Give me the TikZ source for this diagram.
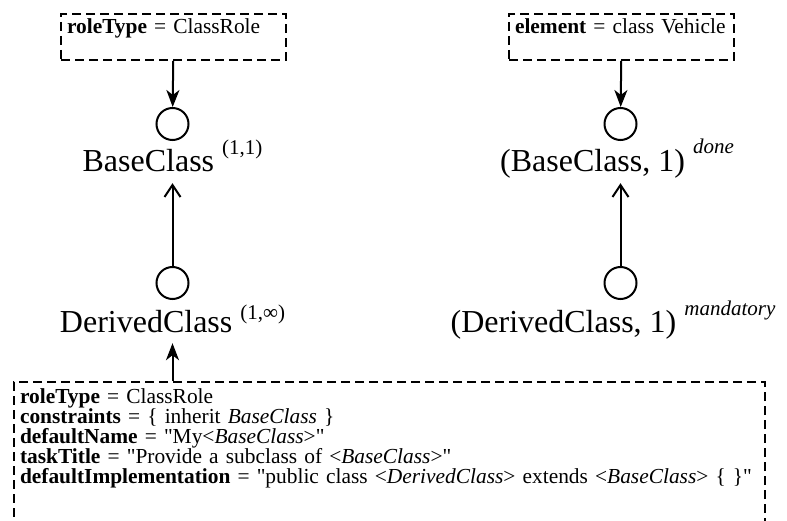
\documentclass[tikz,border=0pt]{standalone}
\usepackage{fontspec}
\setmainfont{Liberation Serif}[Ligatures=TeXOff]
\usetikzlibrary{arrows.meta}

\newcommand{\card}[2][17pt]{\raisebox{#1}{\fontsize{21}{21}\selectfont #2}}

\begin{document}
\begin{tikzpicture}[x=1pt,y=-1pt,
	attrbox/.style={draw, line width=2pt, dash pattern=on 9pt off 5pt, anchor=north west, align=left, inner xsep=6pt, inner ysep=3pt, font=\fontsize{21.4}{20}\selectfont},
	role/.style={draw, circle, line width=2pt, minimum size=32pt, inner sep=0pt},
	classlbl/.style={anchor=base, inner sep=3pt, text depth=8pt, font=\fontsize{32}{32}\selectfont},
	assign/.style={line width=2pt, -{Stealth[length=17pt,width=13pt,inset=5pt]}},
	inherit/.style={line width=2pt, -{Straight Barb[length=12pt,width=16pt]}}]
\useasboundingbox (0,0) rectangle (787,521);

% role instances (left)
\node at (60,13)[attrbox, text width=213pt, text height=17pt, text depth=23pt](roleBox){\textbf{roleType} = ClassRole};
\node at (172.5,124)[role](baseRole){};
\node at (172.5,172)[classlbl](baseLbl){BaseClass \card{(1,1)}};
\node at (172.5,283)[role](derivedRole){};
\node at (172.5,332)[classlbl](derivedLbl){DerivedClass \card[13pt]{(1,∞)}};

% bindings (right)
\node at (508,13)[attrbox, text width=213pt, text height=17pt, text depth=23pt](elemBox){\textbf{element} = class Vehicle};
\node at (620.5,124)[role](elemBaseRole){};
\node at (617,172)[classlbl](elemBaseLbl){(BaseClass, 1) \card[18pt]{\textit{done}}};
\node at (620.5,283)[role](elemDerivedRole){};
\node at (613,332)[classlbl](elemDerivedLbl){(DerivedClass, 1) \card{\textit{mandatory}}};

% properties of DerivedClass
\node at (13,381)[attrbox, text width=739pt, text height=18pt, text depth=140pt](derivedAttrs){%
\textbf{roleType} = ClassRole\\
\textbf{constraints} = \{ inherit \textit{BaseClass} \}\\
\textbf{defaultName} = "My<\textit{BaseClass}>"\\
\textbf{taskTitle} = "Provide a subclass of <\textit{BaseClass}>"\\
\textbf{defaultImplementation} = "public class <\textit{DerivedClass}> extends <\textit{BaseClass}> \{ \}"};

\draw[assign] (roleBox) -- (baseRole);
\draw[inherit] (derivedRole) -- (baseLbl.south -| derivedRole);
\draw[assign] (derivedAttrs.north -| derivedRole) -- (derivedLbl.south -| derivedRole);

\draw[assign] (elemBox) -- (elemBaseRole);
\draw[inherit] (elemDerivedRole) -- (elemBaseLbl.south -| elemDerivedRole);

\end{tikzpicture}
\end{document}
